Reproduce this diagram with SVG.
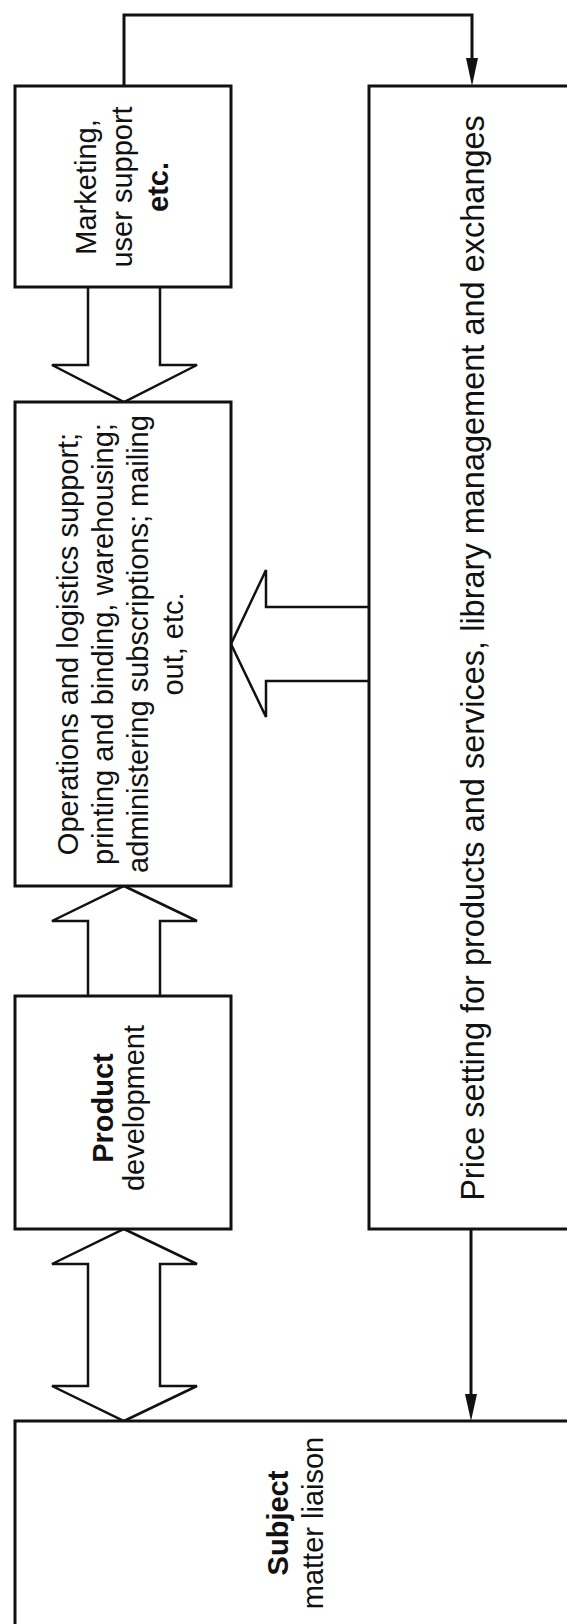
<svg xmlns="http://www.w3.org/2000/svg" width="567" height="1624" viewBox="0 0 567 1624">
<style>
.box{fill:#fff;stroke:#111;stroke-width:3}
.blk{fill:#fff;stroke:#111;stroke-width:2.5;stroke-linejoin:miter}
.ln{fill:none;stroke:#111;stroke-width:3}
.head{fill:#111}
.t{font-family:"Liberation Sans",Arial,sans-serif;font-size:29px;fill:#111;text-anchor:middle}
.b{font-weight:bold}
</style>
<rect width="567" height="1624" fill="#fff"/>
<g id="connectors">
<path class="ln" d="M124,86 V15 H472 V62"/>
<path class="head" d="M466,58 L478,58 L472,86 Z"/>
<path class="ln" d="M471,1229 V1398" stroke-width="2.5"/>
<path class="head" d="M465,1394 L477,1394 L471,1421 Z"/>
<path class="blk" d="M88,287 V365 H52 L124,402 L197,365 H160 V287"/>
<path class="blk" d="M369,607 H266 V570 L231,644 L266,717 V681 H369"/>
<path class="blk" d="M88,996 V921 H52 L124,886 L197,921 H160 V996"/>
<path class="blk" d="M88,1264 H52 L124,1229 L197,1264 H160 V1386 H197 L124,1421 L52,1386 H88 Z"/>
</g>
<g id="marketing">
<rect class="box" x="15" y="86" width="216" height="201"/>
<text class="t" transform="translate(0 187) rotate(-90)"><tspan x="0" y="96">Marketing,</tspan><tspan x="0" y="132">user support</tspan><tspan x="0" y="168" class="b">etc.</tspan></text>
</g>
<g id="operations">
<rect class="box" x="15" y="402" width="216" height="484"/>
<text class="t" transform="translate(0 644) rotate(-90)"><tspan x="0" y="78">Operations and logistics support;</tspan><tspan x="0" y="113">printing and binding, warehousing;</tspan><tspan x="0" y="148">administering subscriptions; mailing</tspan><tspan x="0" y="183">out, etc.</tspan></text>
</g>
<g id="product">
<rect class="box" x="15" y="996" width="216" height="233"/>
<text class="t" transform="translate(0 1108) rotate(-90)"><tspan x="0" y="113" class="b">Product</tspan><tspan x="0" y="144">development</tspan></text>
</g>
<g id="price">
<rect class="box" x="369" y="86" width="300" height="1143"/>
<text class="t" transform="translate(0 658) rotate(-90)" style="font-size:32.5px"><tspan x="0" y="484">Price setting for products and services, library management and exchanges</tspan></text>
</g>
<g id="subject">
<rect class="box" x="15" y="1421" width="600" height="300"/>
<text class="t" transform="translate(0 1523) rotate(-90)"><tspan x="0" y="288" class="b">Subject</tspan><tspan x="0" y="323">matter liaison</tspan></text>
</g>
</svg>
